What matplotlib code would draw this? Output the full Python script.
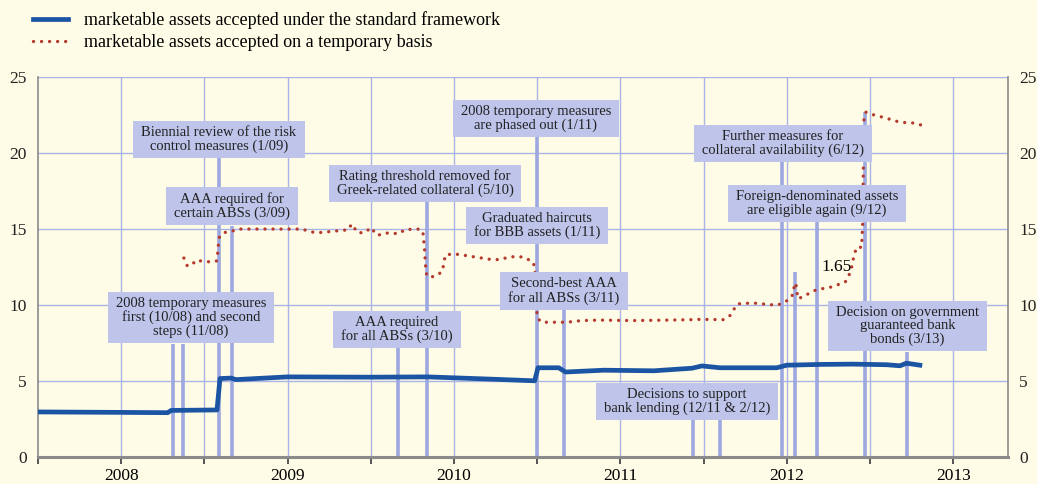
import numpy as np
import matplotlib
matplotlib.use("Agg")
import matplotlib.pyplot as plt
from matplotlib.patches import Rectangle

plt.rcParams['font.family'] = ['Liberation Serif', 'DejaVu Serif']

# series: time in decimal years, value in EUR trillions
std_t = [2008.0, 2008.5, 2008.78, 2008.80, 2009.076, 2009.094, 2009.16, 2009.19,
         2009.5, 2010.0, 2010.34, 2010.7, 2010.985, 2011.005, 2011.13, 2011.17,
         2011.40, 2011.70, 2011.93, 2011.99, 2012.10, 2012.44, 2012.50, 2012.70,
         2012.90, 2013.10, 2013.18, 2013.22, 2013.30]
std_v = [2.95, 2.92, 2.90, 3.05, 3.08, 5.15, 5.18, 5.08,
         5.26, 5.24, 5.26, 5.12, 5.00, 5.86, 5.86, 5.58,
         5.70, 5.66, 5.83, 5.98, 5.86, 5.86, 6.03, 6.08,
         6.10, 6.06, 5.99, 6.16, 6.03]

tmp_t = [2008.877, 2008.897, 2008.924, 2008.950, 2008.993, 2009.044, 2009.074, 2009.080,
         2009.084, 2009.090, 2009.114, 2009.164, 2009.202, 2009.587, 2009.629, 2009.675,
         2009.725, 2009.815, 2009.865, 2009.885, 2009.899, 2009.925, 2009.971, 2009.999,
         2010.041, 2010.085, 2010.171, 2010.206, 2010.300, 2010.315, 2010.324, 2010.330,
         2010.336, 2010.352, 2010.392, 2010.430, 2010.448, 2010.492, 2010.536, 2010.636,
         2010.727, 2010.776, 2010.826, 2010.877, 2010.921, 2010.977, 2010.987, 2010.997,
         2011.003, 2011.027, 2011.177, 2011.267, 2011.377, 2011.576, 2011.778, 2011.936,
         2011.978, 2012.118, 2012.159, 2012.203, 2012.295, 2012.439, 2012.479, 2012.519,
         2012.539, 2012.545, 2012.555, 2012.559, 2012.569, 2012.629, 2012.680, 2012.760,
         2012.850, 2012.870, 2012.890, 2012.904, 2012.920, 2012.950, 2012.956, 2012.964,
         2012.976, 2013.000, 2013.090, 2013.180, 2013.270, 2013.317]
tmp_v = [13.09, 12.58, 12.62, 12.95, 12.87, 12.83, 12.90, 13.40,
         13.92, 14.45, 14.76, 14.85, 15.00, 15.00, 14.85, 14.75,
         14.80, 14.90, 14.95, 15.33, 15.10, 14.74, 14.80, 15.10,
         14.58, 14.74, 14.70, 14.97, 15.00, 14.67, 13.57, 12.47,
         11.99, 11.81, 11.92, 12.20, 13.29, 13.36, 13.32, 13.14,
         12.99, 12.99, 13.14, 13.20, 13.14, 12.81, 12.26, 9.63,
         9.12, 8.86, 8.86, 8.97, 9.00, 8.97, 9.00, 9.03,
         9.05, 9.03, 9.30, 10.07, 10.13, 9.98, 10.13, 10.40,
         10.73, 11.27, 11.45, 10.95, 10.40, 10.73, 11.01, 11.16,
         11.49, 11.82, 12.48, 13.25, 13.80, 13.80, 15.34, 22.26,
         22.70, 22.59, 22.33, 22.04, 21.98, 21.82]

# policy events: date and height of the marker line
ev_t = [2008.811, 2008.871, 2009.088, 2009.166, 2010.163, 2010.338, 2010.999, 2011.160,
        2011.936, 2012.100, 2012.470, 2012.550, 2012.682, 2012.970, 2013.220]
ev_top = [7.4, 7.4, 19.67, 15.23, 7.16, 16.78, 21.06, 9.73,
          2.42, 2.42, 19.4, 12.15, 15.45, 22.7, 6.9]

# annotation boxes: label and centre (year, value)
box_labels = ["2008 temporary measures\nfirst (10/08) and second\nsteps (11/08)",
              "Biennial review of the risk\ncontrol measures (1/09)",
              "AAA required for\ncertain ABSs (3/09)",
              "Rating threshold removed for\nGreek-related collateral (5/10)",
              "AAA required\nfor all ABSs (3/10)",
              "2008 temporary measures\nare phased out (1/11)",
              "Graduated haircuts\nfor BBB assets (1/11)",
              "Second-best AAA\nfor all ABSs (3/11)",
              "Decisions to support\nbank lending (12/11 & 2/12)",
              "Further measures for\ncollateral availability (6/12)",
              "Foreign-denominated assets\nare eligible again (9/12)",
              "Decision on government\nguaranteed bank\nbonds (3/13)"]
box_x = [2008.919, 2009.088, 2009.166, 2010.326, 2010.157, 2010.993, 2010.999, 2011.161,
         2011.90, 2012.477, 2012.68, 2013.225]
box_y = [9.17, 20.93, 16.52, 18.0, 8.38, 22.31, 15.25, 10.92,
         3.67, 20.67, 16.71, 8.61]

bg = '#fefce6'
grid_c = '#aab4e6'
ev_c = '#9ca8df'
box_c = '#bec4ea'
blue = '#1b54a3'
red = '#b53a2e'

fig = plt.figure(figsize=(10.37, 4.84), dpi=100, facecolor=bg)
ax = fig.add_axes([0.0366, 0.0564, 0.9355, 0.7839], facecolor=bg)

ax.set_xlim(2008.0, 2013.83)
ax.set_ylim(0, 25)

# grid
for y in range(0, 26, 5):
    ax.axhline(y, color=grid_c, lw=1, zorder=1)
for x in np.arange(2008.5, 2013.9, 0.5):
    ax.axvline(x, color=grid_c, lw=1, zorder=1)

# event lines
ax.vlines(ev_t, 0, ev_top, color=ev_c, lw=2.6, zorder=2)

# series
ax.plot(std_t, std_v, color=blue, lw=3.4, solid_joinstyle='round', zorder=3,
        label='marketable assets accepted under the standard framework')
ax.plot(tmp_t, tmp_v, color=red, lw=2.4, linestyle=(0, (0.01, 2.4)),
        dash_capstyle='round', zorder=3,
        label='marketable assets accepted on a temporary basis')

ax.text(2012.80, 12.5, '1.65', fontsize=12.5, ha='center', va='center', zorder=5)

# boxes
texts = []
for lab, x, y in zip(box_labels, box_x, box_y):
    texts.append(ax.text(x, y, lab, fontsize=10.5, ha='center', va='center',
                         linespacing=1.05, color='#222222', zorder=6))

# axes styling
ax.spines['top'].set_visible(False)
ax.spines['left'].set_color('#8a8a8a')
ax.spines['right'].set_color('#8a8a8a')
ax.spines['left'].set_linewidth(1.2)
ax.spines['right'].set_linewidth(1.2)
ax.spines['bottom'].set_color('#8a8a8a')
ax.spines['bottom'].set_linewidth(2.2)

ax.set_yticks(range(0, 26, 5))
ax.tick_params(axis='y', length=0, pad=8, labelsize=12.5, labelright=True, colors='#222222')
ax.set_xticks(np.arange(2008.0, 2013.9, 0.5))
ax.set_xticklabels(['' if abs(v - int(v) - 0.5) > 0.01 else str(int(v))
                    for v in np.arange(2008.0, 2013.9, 0.5)])
ax.tick_params(axis='x', length=5, width=1.4, color='#555555', pad=3, labelsize=12.5)

fig.legend(loc='upper left', bbox_to_anchor=(33 / 1037, 1 - 11 / 484), frameon=False,
           fontsize=13, handlelength=1.95, handletextpad=0.85, labelspacing=0.3,
           borderaxespad=0, borderpad=0)

# draw the box backgrounds behind the labels
fig.canvas.draw()
r = fig.canvas.get_renderer()
inv = fig.transFigure.inverted()
padx, pady = 8, 5
for t in texts:
    bb = t.get_window_extent(r)
    (x0, y0) = inv.transform((bb.x0 - padx, bb.y0 - pady))
    (x1, y1) = inv.transform((bb.x1 + padx, bb.y1 + pady))
    rect = Rectangle((x0, y0), x1 - x0, y1 - y0, transform=fig.transFigure,
                     facecolor=box_c, edgecolor='none', zorder=5)
    ax.add_artist(rect)

fig.savefig('out.png', dpi=100, facecolor=bg)
